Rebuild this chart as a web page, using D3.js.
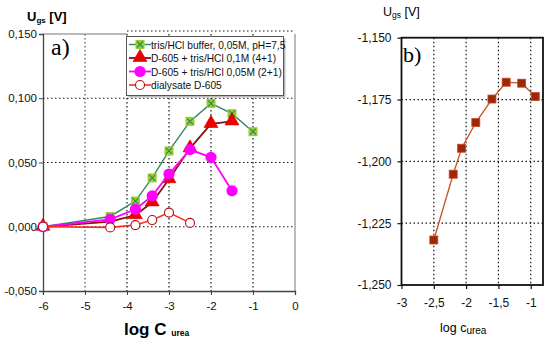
<!DOCTYPE html>
<html>
<head>
<meta charset="utf-8">
<script src="https://cdn.jsdelivr.net/npm/d3@7"></script>
<style>
  body { margin: 0; background: #fff; }
  svg { font-family: "Liberation Sans", Arial, sans-serif; }
</style>
</head>
<body>
<div class="chart"></div>
<script>
// ---- data, panel a) ----
var logConc = [-6, -4.4, -3.8, -3.4, -3, -2.5, -2, -1.5, -1];
var trisBuffer = [0, 0.008, 0.020, 0.038, 0.059, 0.082, 0.096, 0.088, 0.074];
var d605Tris01 = [0, 0.004, 0.009, 0.019, 0.037, 0.061, 0.080, 0.082];
var d605Tris005 = [0, 0.0058, 0.0136, 0.024, 0.041, 0.060, 0.054, 0.028];
var dialysate = [0, -0.0005, 0.0013, 0.0052, 0.011, 0.003];
var seriesNames = ['tris/HCl buffer, 0,05M, pH=7,5', 'D-605 + tris/HCl 0,1M (4+1)',
  'D-605 + tris/HCl 0,05M (2+1)', 'dialysate D-605'];
var xTicksA = [-6, -5, -4, -3, -2, -1, 0];
var yTicksA = [-0.05, 0, 0.05, 0.1, 0.15];

// ---- data, panel b) ----
var logConcB = [-2.5, -2.2, -2.07, -1.85, -1.6, -1.38, -1.14, -0.93];
var ugsB = [-1.2318, -1.2052, -1.1947, -1.1843, -1.1748, -1.168, -1.1684, -1.1738];
var xTicksB = [-3, -2.5, -2, -1.5, -1];
var yTicksB = [-1.25, -1.225, -1.2, -1.175, -1.15];

var svg = d3.select('.chart').append('svg')
  .attr('width', 550)
  .attr('height', 344);

var loc = d3.formatLocale({ decimal: ',', thousands: '.', grouping: [3], currency: ['', ''], minus: '-' });
var f3 = loc.format('.3f');
var fComma = d => String(d).replace('.', ',');

// =============== panel a) ===============
var xA = d3.scaleLinear().domain([-6, 0]).range([43, 295]);
var yA = d3.scaleLinear().domain([-0.05, 0.15]).range([291, 34]);

var gA = svg.append('g');

// grid
gA.selectAll('.vgrid').data([-5, -4, -3, -2, -1]).enter().append('line')
  .attr('x1', d => xA(d)).attr('x2', d => xA(d))
  .attr('y1', yA(0.15)).attr('y2', yA(-0.05))
  .attr('stroke', d => d === -5 ? '#555' : '#111')
  .attr('stroke-width', 1.2)
  .attr('stroke-dasharray', '1.5,2.5');
gA.selectAll('.hgrid').data([0, 0.05, 0.1]).enter().append('line')
  .attr('x1', xA(-6)).attr('x2', xA(0))
  .attr('y1', d => yA(d)).attr('y2', d => yA(d))
  .attr('stroke', '#111')
  .attr('stroke-width', 1.2)
  .attr('stroke-dasharray', '1.5,2.5');

// frame
gA.append('line').attr('x1', xA(-6)).attr('x2', 127).attr('y1', yA(0.15)).attr('y2', yA(0.15))
  .attr('stroke', '#777');
gA.append('line').attr('x1', 127).attr('x2', 293).attr('y1', 31).attr('y2', 31)
  .attr('stroke', '#111').attr('stroke-dasharray', '1.5,2.5');
gA.append('line').attr('x1', xA(0)).attr('x2', xA(0)).attr('y1', yA(0.15)).attr('y2', yA(-0.05))
  .attr('stroke', '#777');

// axes
var yAxisA = d3.axisLeft(yA).tickValues(yTicksA).tickFormat(f3).tickSize(4).tickPadding(2);
var xAxisA = d3.axisBottom(xA).tickValues(xTicksA).tickFormat(d3.format('d')).tickSize(4).tickPadding(7);
var yaxA = gA.append('g').attr('transform', 'translate(' + xA(-6) + ',0)').call(yAxisA);
var xaxA = gA.append('g').attr('transform', 'translate(0,' + yA(-0.05) + ')').call(xAxisA);
[yaxA, xaxA].forEach(function (ax) {
  ax.select('.domain').attr('stroke', '#444').attr('stroke-width', 1.3);
  ax.selectAll('.tick line').attr('stroke', '#444');
  ax.selectAll('.tick text').attr('font-size', 11.5).attr('fill', '#111')
    .attr('font-family', '"Liberation Sans", Arial, sans-serif');
});
xaxA.selectAll('.tick text').text(d => d === 0 ? '0' : String(d));

// series lines
var lineA = d3.line().x(d => xA(d[0])).y(d => yA(d[1]));
function pairs(vals) { return vals.map((v, i) => [logConc[i], v]); }

var styles = [
  { vals: trisBuffer, color: '#2e8b57', width: 1.4 },
  { vals: d605Tris01, color: '#8b1010', width: 1.8 },
  { vals: d605Tris005, color: '#ff00ff', width: 1.8 },
  { vals: dialysate, color: '#ff2a1a', width: 1.6 }
];

function drawMarker(g, kind, cx, cy) {
  if (kind === 0) {
    g.append('rect').attr('x', cx - 4.5).attr('y', cy - 4.5).attr('width', 9).attr('height', 9)
      .attr('fill', '#9acd32');
    g.append('path').attr('d', 'M' + (cx - 3) + ',' + (cy - 3) + 'L' + (cx + 3) + ',' + (cy + 3) +
      'M' + (cx - 3) + ',' + (cy + 3) + 'L' + (cx + 3) + ',' + (cy - 3))
      .attr('stroke', '#2e8b57').attr('stroke-width', 1.2);
  } else if (kind === 1) {
    g.append('path').attr('d', d3.symbol().type(d3.symbolTriangle).size(85)())
      .attr('transform', 'translate(' + cx + ',' + (cy - 0.5) + ')')
      .attr('fill', '#ee0000').attr('stroke', '#cc0000').attr('stroke-width', 0.6);
  } else if (kind === 2) {
    g.append('circle').attr('cx', cx).attr('cy', cy).attr('r', 5.6).attr('fill', '#ff00ff');
  } else {
    g.append('circle').attr('cx', cx).attr('cy', cy).attr('r', 4.5)
      .attr('fill', '#fff').attr('stroke', '#b01010').attr('stroke-width', 1.1);
  }
}

styles.forEach(function (s, k) {
  var g = gA.append('g');
  g.append('path').datum(pairs(s.vals)).attr('d', lineA)
    .attr('fill', 'none').attr('stroke', s.color).attr('stroke-width', s.width);
  pairs(s.vals).forEach(function (p, i) {
    if (k === 1 && i === 1) return; // hidden behind circle
    drawMarker(g, k, xA(p[0]), yA(p[1]));
  });
});

// legend
var leg = gA.append('g');
leg.append('rect').attr('x', 128.5).attr('y', 38.5).attr('width', 157).attr('height', 59)
  .attr('fill', '#bbb');
leg.append('rect').attr('x', 126.5).attr('y', 36.5).attr('width', 157).attr('height', 59)
  .attr('fill', '#fff').attr('stroke', '#555').attr('stroke-width', 1);
seriesNames.forEach(function (name, k) {
  var cy = 44.5 + k * 13.5;
  leg.append('line').attr('x1', 129).attr('x2', 151).attr('y1', cy).attr('y2', cy)
    .attr('stroke', styles[k].color).attr('stroke-width', styles[k].width);
  drawMarker(leg, k, 140, cy);
  leg.append('text').attr('x', 151).attr('y', cy + 4).attr('font-size', 10.2).attr('fill', '#111')
    .text(name);
});

// labels
gA.append('text').attr('x', 51).attr('y', 55).attr('font-family', '"Liberation Serif", "Times New Roman", serif')
  .attr('font-size', 24).text('a)');
var ua = gA.append('text').attr('x', 27).attr('y', 21).attr('font-weight', 'bold').attr('font-size', 13);
ua.append('tspan').text('U');
ua.append('tspan').attr('font-size', 8).attr('dy', 2).text('gs');
ua.append('tspan').attr('dy', -2).text(' [V]');
var la = gA.append('text').attr('x', 124).attr('y', 335).attr('font-weight', 'bold').attr('font-size', 17);
la.append('tspan').text('log C ');
la.append('tspan').attr('font-size', 8.5).attr('dy', 1).text('urea');

// =============== panel b) ===============
var xB = d3.scaleLinear().domain([-3, -0.81]).range([401.5, 543]);
var yB = d3.scaleLinear().domain([-1.25, -1.15]).range([285, 37.7]);
var gB = svg.append('g');

gB.selectAll('.vgrid').data([-2.5, -2, -1.5, -1]).enter().append('line')
  .attr('x1', d => xB(d)).attr('x2', d => xB(d))
  .attr('y1', yB(-1.15)).attr('y2', yB(-1.25))
  .attr('stroke', '#111').attr('stroke-width', 1.2).attr('stroke-dasharray', '1.5,2.5');
gB.selectAll('.hgrid').data([-1.225, -1.2, -1.175]).enter().append('line')
  .attr('x1', xB(-3)).attr('x2', xB(-0.81))
  .attr('y1', d => yB(d)).attr('y2', d => yB(d))
  .attr('stroke', '#111').attr('stroke-width', 1.2).attr('stroke-dasharray', '1.5,2.5');

gB.append('rect').attr('x', xB(-3)).attr('y', yB(-1.15))
  .attr('width', xB(-0.81) - xB(-3)).attr('height', yB(-1.25) - yB(-1.15))
  .attr('fill', 'none').attr('stroke', '#111').attr('stroke-width', 1.8);

var yAxisB = d3.axisLeft(yB).tickValues(yTicksB).tickFormat(f3).tickSize(4).tickPadding(6);
var xAxisB = d3.axisBottom(xB).tickValues(xTicksB).tickFormat(fComma).tickSize(4).tickPadding(9);
var yaxB = gB.append('g').attr('transform', 'translate(' + xB(-3) + ',0)').call(yAxisB);
var xaxB = gB.append('g').attr('transform', 'translate(0,' + yB(-1.25) + ')').call(xAxisB);
[yaxB, xaxB].forEach(function (ax) {
  ax.select('.domain').remove();
  ax.selectAll('.tick line').attr('stroke', '#111').attr('stroke-width', 1.2);
  ax.selectAll('.tick text').attr('font-size', 12).attr('fill', '#111')
    .attr('font-family', '"Liberation Sans", Arial, sans-serif');
});

var lineB = d3.line().x(d => xB(d[0])).y(d => yB(d[1]));
var ptsB = logConcB.map((v, i) => [v, ugsB[i]]);
gB.append('path').datum(ptsB).attr('d', lineB)
  .attr('fill', 'none').attr('stroke', '#c8501e').attr('stroke-width', 1.3);
gB.selectAll('.sq').data(ptsB).enter().append('rect')
  .attr('x', d => xB(d[0]) - 4).attr('y', d => yB(d[1]) - 4)
  .attr('width', 8).attr('height', 8)
  .attr('fill', '#9a2a05').attr('stroke', '#d0402a').attr('stroke-width', 0.8);

gB.append('text').attr('x', 403).attr('y', 62).attr('font-family', '"Liberation Serif", "Times New Roman", serif')
  .attr('font-size', 22).text('b)');
var ub = gB.append('text').attr('x', 383).attr('y', 16).attr('font-size', 12.5);
ub.append('tspan').text('U');
ub.append('tspan').attr('font-size', 8.5).attr('dy', 2).text('gs');
ub.append('tspan').attr('dy', -2).text(' [V]');
var lb = gB.append('text').attr('x', 440).attr('y', 332).attr('font-size', 12.5);
lb.append('tspan').text('log c');
lb.append('tspan').attr('font-size', 10).attr('dy', 2).text('urea');
</script>
</body>
</html>
